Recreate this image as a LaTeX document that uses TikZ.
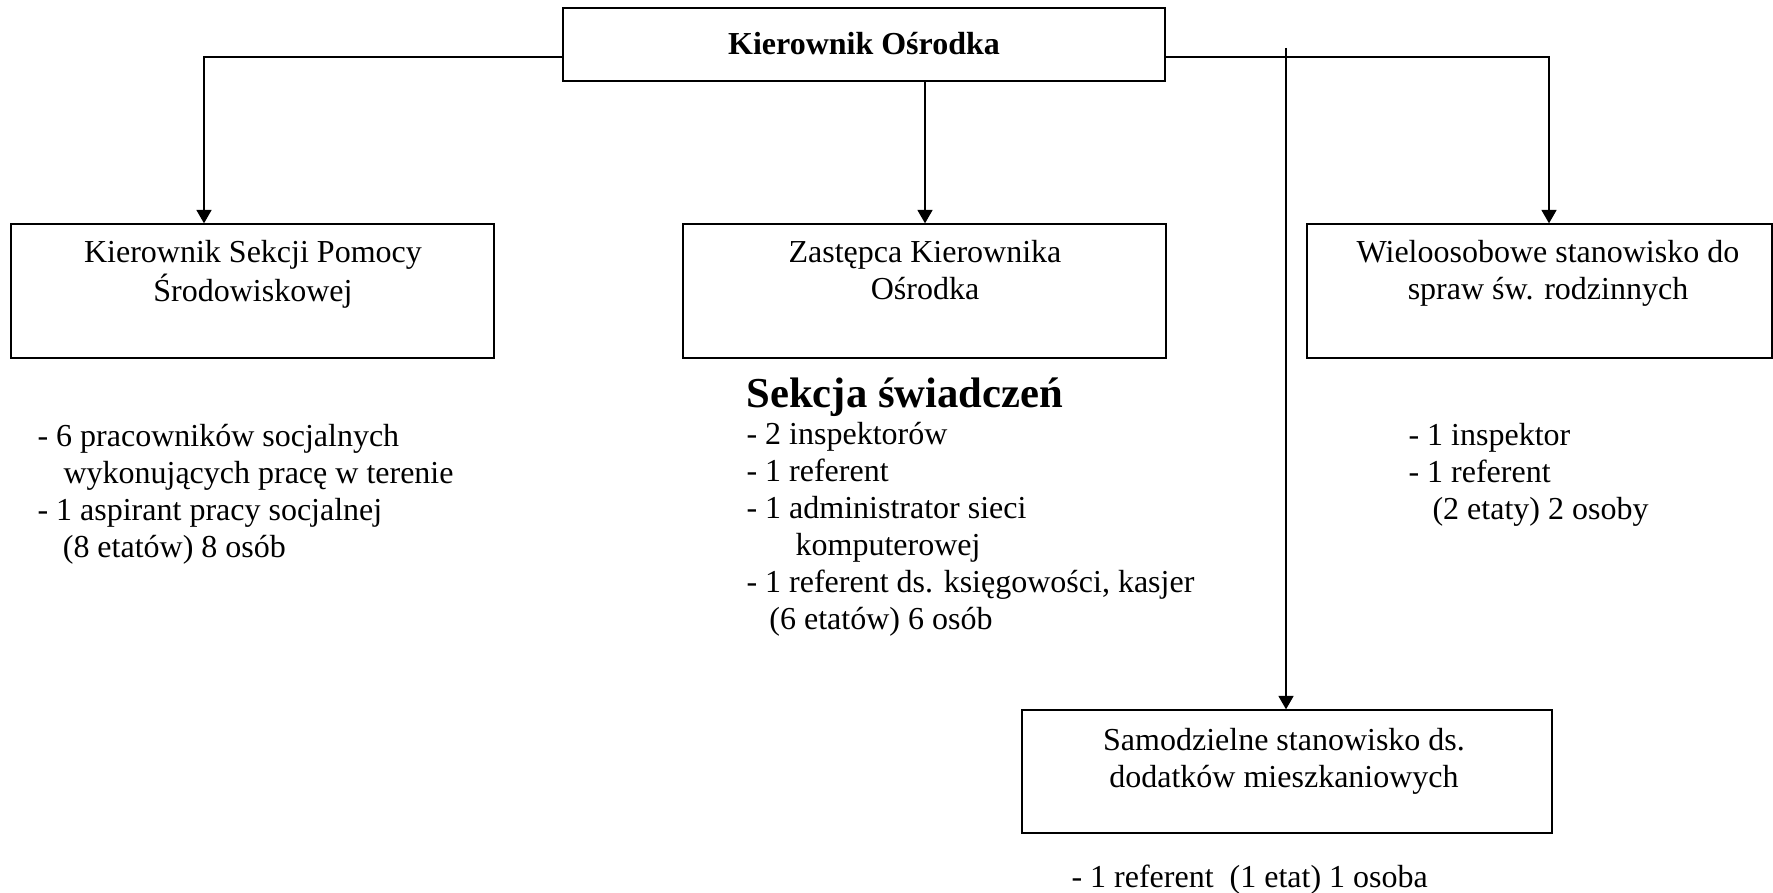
\documentclass[tikz,border=0pt]{standalone}
\usepackage{fontspec}
\setmainfont{Liberation Serif}
\usetikzlibrary{arrows.meta,fit}
\tikzset{
  box/.style={draw=black, line width=0.5pt, inner sep=0pt, rectangle},
  conn/.style={draw=black, line width=0.55pt},
  arr/.style={conn, -{Triangle[width=5.6pt,length=5pt]}},
  txt/.style={inner sep=0pt, font=\fontsize{12}{13.875}\selectfont},
}
\begin{document}
\begin{tikzpicture}[x=0.375pt,y=-0.375pt]
\useasboundingbox (0,0) rectangle (1773,893);
\fill[white] (0,0) rectangle (1773,893);
% boxes
\node[box, fit={(563,8) (1165,81)}] (top) {};
\node[box, fit={(11,224) (494,358)}] (b1) {};
\node[box, fit={(683,224) (1166,358)}] (b2) {};
\node[box, fit={(1307,224) (1772,358)}] (b3) {};
\node[box, fit={(1022,710) (1552,833)}] (b4) {};
% box texts
\node[txt, anchor=base] (t0) at (864,55) {\bfseries Kierownik Ośrodka};
\node[txt, anchor=base] (t1) at (253,263) {\begin{tabular}[t]{@{}c@{}}Kierownik Sekcji Pomocy\\Środowiskowej\end{tabular}};
\node[txt, anchor=base] (t2) at (925,263) {\begin{tabular}[t]{@{}c@{}}Zastępca Kierownika\\Ośrodka\end{tabular}};
\node[txt, anchor=base] (t3) at (1548,263) {\begin{tabular}[t]{@{}c@{}}Wieloosobowe stanowisko do\\spraw św. rodzinnych\end{tabular}};
\node[txt, anchor=base] (t4) at (1284,750) {\begin{tabular}[t]{@{}c@{}}Samodzielne stanowisko ds.\\dodatków mieszkaniowych\end{tabular}};
% staff lists
\node[txt, anchor=base west] (l1) at (37,447) {\begin{tabular}[t]{@{}l@{}}- 6 pracowników socjalnych\\\hspace*{9.75pt}wykonujących pracę w terenie\\- 1 aspirant pracy socjalnej\\\hspace*{9.5pt}(8 etatów) 8 osób\end{tabular}};
\node[inner sep=0pt, anchor=base west, font=\fontsize{16}{18}\selectfont\bfseries] (h2) at (746,408) {Sekcja świadczeń};
\node[txt, anchor=base west] (l2) at (746,445) {\begin{tabular}[t]{@{}l@{}}- 2 inspektorów\\- 1 referent\\- 1 administrator sieci\\\hspace*{18.4pt}komputerowej\\- 1 referent ds. księgowości, kasjer\\\hspace*{8.6pt}(6 etatów) 6 osób\end{tabular}};
\node[txt, anchor=base west] (l3) at (1408,446) {\begin{tabular}[t]{@{}l@{}}- 1 inspektor\\- 1 referent\\\hspace*{9pt}(2 etaty) 2 osoby\end{tabular}};
\node[txt, anchor=base west] (l4) at (1071,887) {- 1 referent\ \ (1 etat) 1 osoba};
% connectors
\coordinate (vtop) at (1286,48);
\draw[arr] (top.west |- 0,57) -| (b1.north -| 204,0);
\draw[arr] (top.south -| 925,0) -- (b2.north -| 925,0);
\draw[arr] (top.east |- 0,57) -| (b3.north -| 1549,0);
\draw[arr] (vtop) -- (b4.north -| 1286,0);
\end{tikzpicture}
\end{document}
